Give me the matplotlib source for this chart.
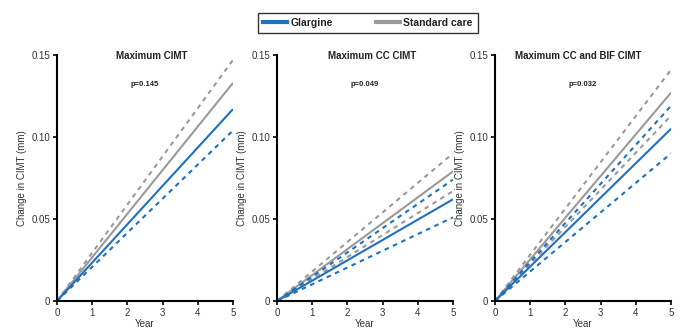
import numpy as np
import matplotlib
matplotlib.use('Agg')
import matplotlib.pyplot as plt
from matplotlib.lines import Line2D

plt.rcParams['font.family'] = ['Liberation Sans', 'DejaVu Sans']

colors = ['#1f70c1', '#9a9a9a']

years = [0, 5]
titles = ['Maximum CIMT', 'Maximum CC CIMT', 'Maximum CC and BIF CIMT']
pvals = ['p=0.145', 'p=0.049', 'p=0.032']

# change at year 5: (estimate, lower CI, upper CI); None = not shown
glargine = [(0.117, 0.104, None), (0.062, 0.051, 0.074), (0.105, 0.090, 0.119)]
standard = [(0.133, None, 0.147), (0.079, 0.067, 0.090), (0.127, 0.113, 0.141)]

W, H = 681, 330
fig = plt.figure(figsize=(W/100, H/100), dpi=100)
lefts = [57, 277, 495]
title_x = [152, 372, 578]

for i in range(3):
    ax = fig.add_axes([lefts[i]/W, 1-301/H, 176/W, 246/H])
    for vals, c in [(standard[i], colors[1]), (glargine[i], colors[0])]:
        est, lo, hi = vals
        ax.plot(years, [0, est], color=c, lw=1.5, solid_capstyle='butt')
        for v in (lo, hi):
            if v is not None:
                ax.plot(years, [0, v], color=c, lw=1.5, dashes=(2.2, 2.2))
    ax.set_xlim(0, 5)
    ax.set_ylim(0, 0.15)
    ax.set_xticks(range(6))
    ax.set_yticks([0, 0.05, 0.10, 0.15])
    ax.set_yticklabels(['0', '0.05', '0.10', '0.15'])
    ax.tick_params(labelsize=7, length=3, width=1.2, colors='black', labelcolor='#333333', pad=2)
    for s in ['top', 'right']:
        ax.spines[s].set_visible(False)
    for s in ['left', 'bottom']:
        ax.spines[s].set_linewidth(1.5)
    ax.set_xlabel('Year', fontsize=7, color='#333333', labelpad=1)
    ax.set_ylabel('Change in CIMT (mm)', fontsize=7, color='#333333', labelpad=3)
    fig.text(title_x[i]/W, 1-56/H, titles[i], ha='center', va='center',
             fontsize=7, fontweight='bold', color='#222222')
    ax.text(0.5, 0.88, pvals[i], transform=ax.transAxes, ha='center', va='center',
            fontsize=5.5, fontweight='bold', color='#222222')

handles = [Line2D([], [], color=colors[0], lw=3), Line2D([], [], color=colors[1], lw=3)]
leg = fig.legend(handles, ['Glargine', 'Standard care'], loc='center', bbox_to_anchor=(368/W, 1-23/H),
                 ncol=2, fontsize=7.5, frameon=True, fancybox=False, handlelength=2.3,
                 columnspacing=4.2, borderpad=0.45, handletextpad=0.3, borderaxespad=0)
leg.get_frame().set_edgecolor('black')
leg.get_frame().set_linewidth(1)
for t in leg.get_texts():
    t.set_fontweight('bold')
    t.set_color('#222222')

plt.savefig('out.png', dpi=100)
